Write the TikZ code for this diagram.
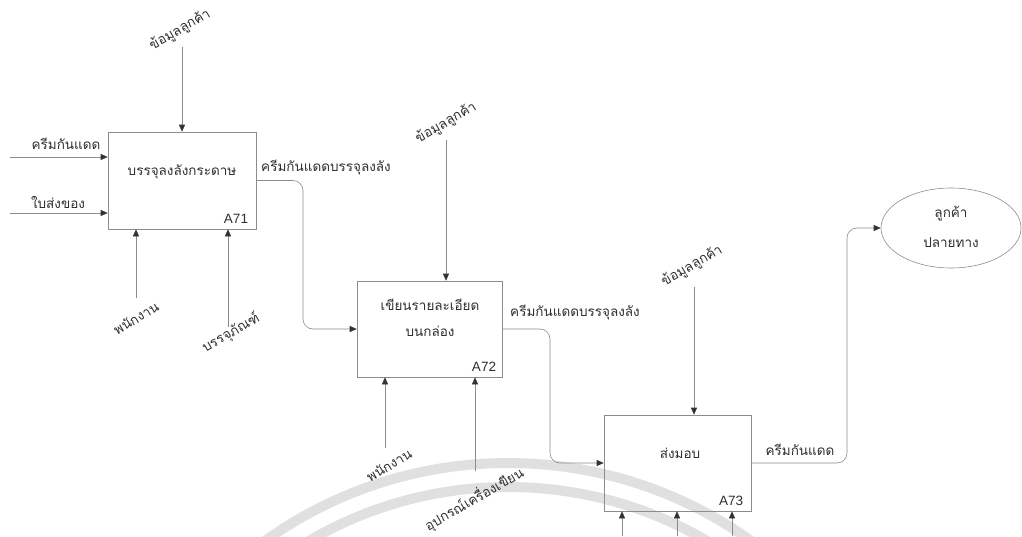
\documentclass[tikz,border=0pt]{standalone}
\usepackage{fontspec}
\setmainfont{Liberation Sans}
\newfontfamily\thaifont[Script=Thai]{Loma}
\usetikzlibrary{arrows.meta,shapes.geometric}
\definecolor{lncol}{HTML}{8C8C8C}
\definecolor{txcol}{HTML}{2E2E2E}
\definecolor{wmcol}{HTML}{E0E0E0}
\tikzset{
  procbox/.style={draw=lncol, line width=0.6pt, minimum width=#1, inner sep=0pt},
  th/.style={text=txcol, font=\thaifont\fontsize{13.5}{15}\selectfont, inner sep=1pt},
  thr/.style={th, rotate=30},
  alab/.style={text=txcol, font=\fontsize{13.5}{15}\selectfont, inner sep=0pt},
  flow/.style={draw=lncol, line width=0.6pt, rounded corners=10pt, -{Triangle[length=7pt,width=6pt,color=black!80]}},
}
\begin{document}
\begin{tikzpicture}[x=1pt,y=-1pt]
\useasboundingbox (0,0) rectangle (1022,536);
% watermark
\begin{scope}
\clip (0,0) rectangle (1022,536);
\draw[wmcol, line width=10pt] (508,881) circle[radius=418];
\draw[wmcol, line width=10pt] (508,881) circle[radius=394];
\end{scope}
% boxes
\node[procbox=148pt, minimum height=97pt] (a71) at (182,180.5) {};
\node[procbox=145pt, minimum height=96pt] (a72) at (429.5,329) {};
\node[procbox=147pt, minimum height=96pt] (a73) at (677.5,463) {};
\node[ellipse, draw=lncol, line width=0.6pt, minimum width=140pt, minimum height=80pt, inner sep=0pt] (cust) at (951,228) {};
% box texts
\node[th] (t71) at (182,172) {บรรจุลงลังกระดาษ};
\node[th] (t72a) at (430,305) {เขียนรายละเอียด};
\node[th] (t72b) at (430,331) {บนกล่อง};
\node[th] (t73) at (680,453) {ส่งมอบ};
\node[th] (tc1) at (951,214) {ลูกค้า};
\node[th] (tc2) at (951,243) {ปลายทาง};
\node[alab] (n71) at (236,219) {A71};
\node[alab] (n72) at (484,367) {A72};
\node[alab] (n73) at (731,501) {A73};
% free ends
\coordinate (i1) at (10,157);
\coordinate (i2) at (10,213);
\coordinate (c71) at (182,47);
\coordinate (m71a) at (136,298);
\coordinate (m71b) at (228,327);
\coordinate (c72) at (446,140);
\coordinate (m72a) at (385,448);
\coordinate (m72b) at (475,471);
\coordinate (c73) at (694,287);
\coordinate (m73a) at (622,536);
\coordinate (m73b) at (677,536);
\coordinate (m73c) at (732,536);
% connectors A71
\draw[flow] (i1) -- (i1 -| a71.west);
\draw[flow] (i2) -- (i2 -| a71.west);
\draw[flow] (c71) -- (c71 |- a71.north);
\draw[flow] (m71a) -- (m71a |- a71.south);
\draw[flow] (m71b) -- (m71b |- a71.south);
\draw[flow] (a71.east) -- (303,180.5) -- (303,329) -- (a72.west);
% connectors A72
\draw[flow] (c72) -- (c72 |- a72.north);
\draw[flow] (m72a) -- (m72a |- a72.south);
\draw[flow] (m72b) -- (m72b |- a72.south);
\draw[flow] (a72.east) -- (550,329) -- (550,463) -- (a73.west);
% connectors A73
\draw[flow] (c73) -- (c73 |- a73.north);
\draw[flow] (m73a) -- (m73a |- a73.south);
\draw[flow] (m73b) -- (m73b |- a73.south);
\draw[flow] (m73c) -- (m73c |- a73.south);
\draw[flow] (a73.east) -- (847,463) -- (847,228) -- (cust.west);
% labels
\node[th] (l1) at (66,144) {ครีมกันแดด};
\node[th] (l2) at (58,202) {ใบส่งของ};
\node[thr] (l3) at (180,30) {ข้อมูลลูกค้า};
\node[thr] (l4) at (136,318) {พนักงาน};
\node[thr] (l5) at (231,333) {บรรจุภัณฑ์};
\node[th] (l6) at (326,168) {ครีมกันแดดบรรจุลงลัง};
\node[thr] (l7) at (446,123) {ข้อมูลลูกค้า};
\node[thr] (l8) at (389,465) {พนักงาน};
\node[thr] (l9) at (474,499) {อุปกรณ์เครื่องเขียน};
\node[th] (l10) at (575,313) {ครีมกันแดดบรรจุลงลัง};
\node[thr] (l11) at (692,266) {ข้อมูลลูกค้า};
\node[th] (l12) at (800,450) {ครีมกันแดด};
\end{tikzpicture}
\end{document}
